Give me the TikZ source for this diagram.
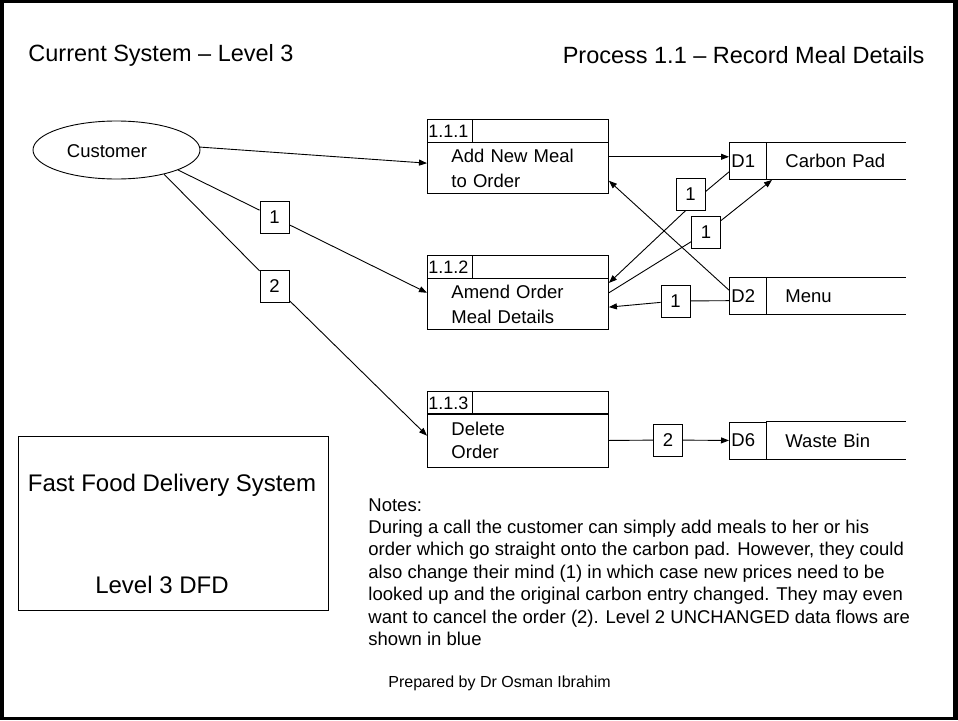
\documentclass[tikz,border=0pt]{standalone}
\usepackage{fontspec}
\setmainfont{Liberation Sans}
\usetikzlibrary{shapes.geometric,arrows.meta,calc}
\begin{document}
\begin{tikzpicture}[x=1pt,y=-1pt,line width=0.9pt,
  flow/.style={-{Triangle[length=8pt,width=6pt]}},
  txt/.style={font=\fontsize{18.5}{22}\selectfont},
  lbl/.style={draw,minimum width=29,minimum height=32,inner sep=0,txt},
  pnum/.style={draw,minimum height=23,text width=43,inner xsep=1,inner ysep=0,align=left,font=\fontsize{18}{20}\selectfont,anchor=north west},
  phead/.style={draw,minimum width=181,minimum height=23,inner sep=0,anchor=north west},
  pbody/.style={draw,minimum height=51,text width=133,inner xsep=24,inner ysep=0,align=left,font=\fontsize{18.5}{25}\selectfont,anchor=north west},
  sid/.style={draw,minimum height=37,text width=33,inner xsep=2,inner ysep=0,align=left,txt,anchor=north west},
  sname/.style={minimum height=37,text width=101,inner xsep=19,inner ysep=0,align=left,txt,anchor=north west}]
\useasboundingbox (0,0) rectangle (958,720);
\fill[black] (0,0) rectangle (958,720);
\fill[white] (4,3) rectangle (953,717);

% titles
\node[anchor=west,inner sep=0,font=\fontsize{23.5}{28}\selectfont] (t1) at (28,55) {Current System – Level 3};
\node[anchor=east,inner sep=0,font=\fontsize{23.5}{28}\selectfont] (t2) at (925,55) {Process 1.1 – Record Meal Details};

% external entity
\node[ellipse,draw,minimum width=167,minimum height=58,inner sep=0] (cust) at (116.5,150) {};
\node[txt,inner sep=0] (custt) at (107,151) {Customer};

% processes
\node[phead] (p1h) at (427,119) {};
\node[pnum] (p1n) at (427,119) {1.1.1};
\node[pbody] (p1) at (427,142) {Add New Meal\\to Order};

\node[phead] (p2h) at (427,255) {};
\node[pnum] (p2n) at (427,255) {1.1.2};
\node[pbody] (p2) at (427,278) {Amend Order\\Meal Details};

\node[phead] (p3h) at (427,391) {};
\node[pnum] (p3n) at (427,391) {1.1.3};
\node[pbody,minimum height=54,font=\fontsize{18.5}{23}\selectfont] (p3) at (427,413) {Delete\\Order};

% data stores
\node[sid] (d1) at (729,142) {D1};
\node[sname] (d1n) at (766,142) {Carbon Pad};
\draw (d1n.north west) -- (d1n.north east) (d1n.south west) -- (d1n.south east);

\node[sid] (d2) at (729,277) {D2};
\node[sname] (d2n) at (766,277) {Menu};
\draw (d2n.north west) -- (d2n.north east) (d2n.south west) -- (d2n.south east);

\node[sid] (d6) at (729,421.5) {D6};
\node[sname] (d6n) at (766,421.5) {Waste Bin};
\draw (d6n.north west) -- (d6n.north east) (d6n.south west) -- (d6n.south east);

% flow labels
\node[lbl] (L1) at (274.5,217.5) {1};
\node[lbl] (L2) at (274.5,286) {2};
\node[lbl] (L3) at (690.5,194) {1};
\node[lbl] (L4) at (706,232.5) {1};
\node[lbl] (L5) at (675.5,301) {1};
\node[lbl] (L6) at (668,440) {2};

% flows
\draw[flow] (cust.2) -- (p1.177);
\draw (cust.-18) -- (L1);
\draw[flow] (L1) -- (p2.173);
\draw (cust.-27) -- (L2);
\draw[flow] (L2) -- (p3.177);
\draw[flow] (p1.7) -- (p1.7 -| d1.west);
\draw (d1.210) -- (L3.9);
\draw[flow] (L3.254) -- (p2.13);
\draw (p2.7) -- (L4);
\draw[flow] (L4) -- ($(d1n.south west)+(6,0)$);
\draw[flow] (d2.163) -- (p1.-8);
\draw (d2.194) -- (L5);
\draw[flow] (L5) -- (p2.-2);
\draw (p3.east) -- (L6);
\draw[flow] (L6) -- (d6.west);

% context box
\node[draw,minimum width=310,minimum height=174,inner sep=0,anchor=north west] (ffd) at (18,436) {};
\node[inner sep=0,font=\fontsize{24}{28}\selectfont] (ffd1) at (172,485) {Fast Food Delivery System};
\node[inner sep=0,font=\fontsize{24}{28}\selectfont] (ffd2) at (162,585) {Level 3 DFD};

% notes
\node[anchor=north west,align=left,inner sep=0,font=\fontsize{18.5}{22.4}\selectfont] (notes) at (368,498) {Notes:\\During a call the customer can simply add meals to her or his\\order which go straight onto the carbon pad. However, they could\\also change their mind (1) in which case new prices need to be\\looked up and the original carbon entry changed. They may even\\want to cancel the order (2). Level 2 UNCHANGED data flows are\\shown in blue};
\node[anchor=west,inner sep=0,font=\fontsize{16}{19}\selectfont] (prep) at (388,683) {Prepared by Dr Osman Ibrahim};
\end{tikzpicture}
\end{document}
